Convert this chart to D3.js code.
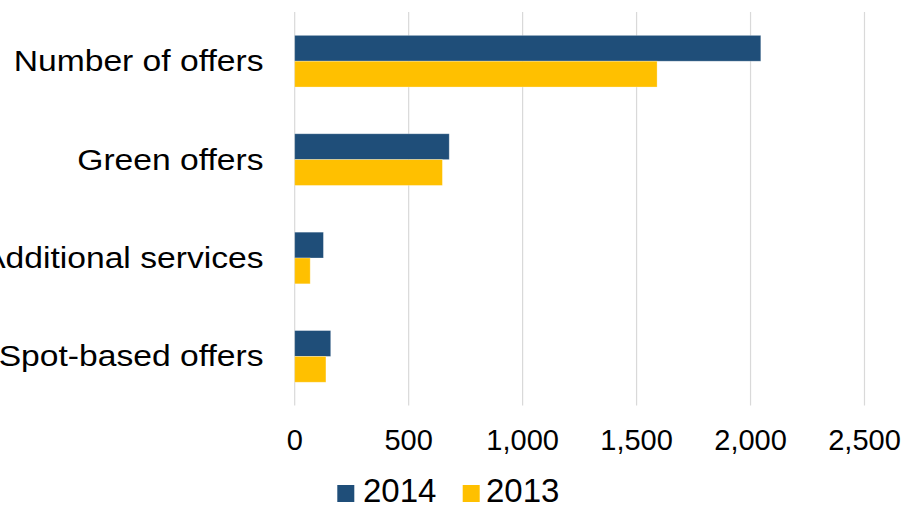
<!DOCTYPE html>
<html>
<head>
<meta charset="utf-8">
<script src="https://cdn.jsdelivr.net/npm/d3@7"></script>
<style>
  html, body { margin: 0; padding: 0; background: #fff; }
  svg { display: block; font-family: "Liberation Sans", Arial, sans-serif; }
</style>
</head>
<body>
<svg id="chart" width="906" height="505"></svg>
<script>
// Offer counts by type, two years
const categories = ["Number of offers", "Green offers", "Additional services", "Spot-based offers"];
const seriesNames = ["2014", "2013"];
const values2014 = [2045, 678, 126, 158];
const values2013 = [1590, 648, 68, 137];
const xTicks = [0, 500, 1000, 1500, 2000, 2500];

const colors = { "2014": "#1f4e79", "2013": "#ffc000" };
const seriesValues = { "2014": values2014, "2013": values2013 };

const svg = d3.select("#chart");
const plot = { left: 294.7, right: 864.5, top: 12, bottom: 405.6 };

const x = d3.scaleLinear().domain([0, 2500]).range([plot.left, plot.right]);
const y = d3.scaleBand().domain(categories).range([plot.top, plot.bottom])
  .paddingInner(0.475).paddingOuter(0.2375);
const ySub = d3.scaleBand().domain(seriesNames).range([0, y.bandwidth()]);

// vertical gridlines
svg.append("g").selectAll("line").data(xTicks).join("line")
  .attr("x1", d => x(d)).attr("x2", d => x(d))
  .attr("y1", plot.top).attr("y2", plot.bottom)
  .attr("stroke", "#d9d9d9").attr("stroke-width", 1.2);

// bars
const rows = categories.map((c, i) => ({ c, i }));
const groups = svg.append("g").selectAll("g").data(rows).join("g")
  .attr("transform", d => `translate(0,${y(d.c)})`);
groups.selectAll("rect")
  .data(d => seriesNames.map(s => ({ s, v: seriesValues[s][d.i] })))
  .join("rect")
  .attr("x", x(0))
  .attr("y", d => ySub(d.s))
  .attr("width", d => x(d.v) - x(0))
  .attr("height", ySub.bandwidth())
  .attr("fill", d => colors[d.s])
  .attr("stroke", "#ffffff").attr("stroke-opacity", 0.35).attr("stroke-width", 0.8);

// category labels
svg.append("g").selectAll("text").data(categories).join("text")
  .attr("transform", d => `translate(263.5,${y(d) + y.bandwidth() / 2 + 10}) scale(1.16,1)`)
  .attr("text-anchor", "end")
  .attr("font-size", 29)
  .attr("fill", "#000")
  .text(d => d);

// x axis tick labels
const fmt = d3.format(",");
svg.append("g").selectAll("text").data(xTicks).join("text")
  .attr("x", d => x(d)).attr("y", 450)
  .attr("text-anchor", "middle")
  .attr("font-size", 29)
  .attr("fill", "#000")
  .text(d => fmt(d));

// legend
const legendItems = [
  { s: "2014", box: 337.3, text: 363 },
  { s: "2013", box: 462.7, text: 486 }
];
const lg = svg.append("g");
lg.selectAll("rect").data(legendItems).join("rect")
  .attr("x", d => d.box).attr("y", 485)
  .attr("width", 17).attr("height", 17)
  .attr("fill", d => colors[d.s]);
lg.selectAll("text").data(legendItems).join("text")
  .attr("x", d => d.text).attr("y", 501.7)
  .attr("font-size", 33)
  .attr("fill", "#000")
  .text(d => d.s);
</script>
</body>
</html>
